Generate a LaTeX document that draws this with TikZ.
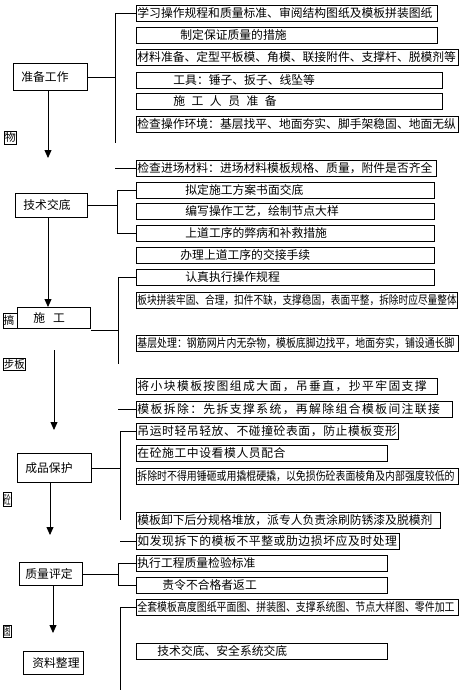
\documentclass[tikz,border=0pt]{standalone}
\usepackage{fontspec}
\usepackage{graphicx}
\setmainfont{Noto Sans CJK SC}
\newfontfamily\cjkwide[LetterSpace=12]{Noto Sans CJK SC}
\newfontfamily\cjkmid[LetterSpace=5]{Noto Sans CJK SC}
\usetikzlibrary{arrows.meta}
\begin{document}
\begin{tikzpicture}[x=1pt,y=-1pt,
  rbox/.style={draw, line width=0.8pt, inner xsep=1pt, inner ysep=0pt, anchor=north west,
    minimum height=16pt, align=left, font=\fontsize{11.8pt}{13pt}\selectfont},
  lbox/.style={draw, line width=0.8pt, inner sep=0pt, anchor=north west, fill=white,
    align=left, font=\fontsize{11.8pt}{13pt}\selectfont},
  sbox/.style={draw, line width=0.6pt, inner sep=0pt, anchor=north west,
    font=\fontsize{11pt}{12pt}\selectfont},
  conn/.style={line width=0.8pt},
  arr/.style={conn, -{Triangle[width=7pt,length=8pt]}}]
\useasboundingbox (0,0) rectangle (471,691);

% small side labels
\node[sbox, minimum width=12pt, minimum height=13pt] (S1) at (4,131) {物};
\node[sbox, minimum width=20pt, minimum height=15pt, text width=20pt, align=left] (S2) at (3,313) {搞};
\node[sbox, minimum width=22pt, minimum height=12pt] (S3) at (3,358) {\scalebox{0.95}[1]{步板}};
\node[sbox, minimum width=8pt, minimum height=14pt] (S4) at (3,492) {\scalebox{0.62}[1.1]{砼}};
\node[sbox, minimum width=8pt, minimum height=12pt] (S5) at (3,625) {\scalebox{0.62}[1]{图}};

% left column
\node[lbox, text width=74pt, minimum height=27pt] (L1) at (13,63) {\hspace*{8pt}准备工作};
\node[lbox, text width=72pt, minimum height=24pt] (L2) at (15,193) {\hspace*{8pt}技术交底};
\node[lbox, text width=73pt, minimum height=21pt] (L3) at (17,307) {\hspace*{16pt}施\hspace{8pt}工};
\node[lbox, text width=74pt, minimum height=29pt] (L4) at (17,453) {\hspace*{8pt}成品保护};
\node[lbox, text width=63pt, minimum height=23pt] (L5) at (19,562) {\hspace*{6pt}质量评定};
\node[lbox, text width=60pt, minimum height=23pt] (L6) at (23,651) {\hspace*{9pt}资料整理};

% right column
\node[rbox, text width=299pt] (R1) at (136,5) {学习操作规程和质量标准、审阅结构图纸及模板拼装图纸};
\node[rbox, text width=299pt] (R2) at (136,27) {\hspace*{43pt}制定保证质量的措施};
\node[rbox, text width=320pt] (R3) at (136,49) {材料准备、定型平板模、角模、联接附件、支撑杆、脱模剂等};
\node[rbox, text width=304pt] (R4) at (136,72) {\hspace*{36pt}工具：锤子、扳子、线坠等};
\node[rbox, text width=304pt] (R5) at (136,93) {\hspace*{36pt}施\hspace{6.5pt}工\hspace{6.5pt}人\hspace{6.5pt}员\hspace{6.5pt}准\hspace{6.5pt}备};
\node[rbox, text width=320pt] (R6) at (136,116) {检查操作环境：基层找平、地面夯实、脚手架稳固、地面无纵};
\node[rbox, text width=298pt] (R7) at (136,160) {检查进场材料：进场材料模板规格、质量，附件是否齐全};
\node[rbox, text width=296pt] (R8) at (136,182) {\hspace*{48pt}拟定施工方案书面交底};
\node[rbox, text width=296pt] (R9) at (136,203) {\hspace*{48pt}编写操作工艺，绘制节点大样};
\node[rbox, text width=296pt] (R10) at (136,225) {\hspace*{48pt}上道工序的弊病和补救措施};
\node[rbox, text width=296pt] (R11) at (136,247) {\hspace*{43pt}办理上道工序的交接手续};
\node[rbox, text width=296pt] (R12) at (136,269) {\hspace*{48pt}认真执行操作规程};
\node[rbox, text width=319pt] (R13) at (136,292) {\scalebox{0.82}[1]{板块拼装牢固、合理，扣件不缺，支撑稳固，表面平整，拆除时应尽量整体}};
\node[rbox, text width=320pt] (R14) at (136,335) {\scalebox{0.84}[1]{基层处理：钢筋网片内无杂物，模板底脚边找平，地面夯实，铺设通长脚}};
\node[rbox, text width=299pt] (R15) at (136,378) {\cjkwide 将小块模板按图组成大面，吊垂直，抄平牢固支撑};
\node[rbox, text width=314pt] (R16) at (136,401) {\cjkwide 模板拆除：先拆支撑系统，再解除组合模板间注联接};
\node[rbox, text width=260pt] (R17) at (136,423) {\cjkmid 吊运时轻吊轻放、不碰撞砼表面，防止模板变形};
\node[rbox, text width=249pt] (R18) at (136,445) {\cjkmid 在砼施工中设看模人员配合};
\node[rbox, text width=320pt] (R19) at (136,468) {\scalebox{0.84}[1]{拆除时不得用锤砸或用撬棍硬撬，以免损伤砼表面棱角及内部强度较低的}};
\node[rbox, text width=302pt] (R20) at (136,512) {模板卸下后分规格堆放，派专人负责涂刷防锈漆及脱模剂};
\node[rbox, text width=261pt] (R21) at (136,533) {\cjkmid 如发现拆下的模板不平整或肋边损坏应及时处理};
\node[rbox, text width=249pt] (R22) at (136,555) {执行工程质量检验标准};
\node[rbox, text width=249pt] (R23) at (136,577) {\hspace*{25pt}责令不合格者返工};
\node[rbox, text width=320pt] (R24) at (136,599) {\scalebox{0.84}[1]{全套模板高度图纸平面图、拼装图、支撑系统图、节点大样图、零件加工}};
\node[rbox, text width=249pt] (R25) at (136,643) {\hspace*{20pt}技术交底、安全系统交底};

% helper coordinates
\coordinate (b1) at (115,143);
\coordinate (b2) at (117,0);
\coordinate (b3) at (118,364);
\coordinate (b4) at (120,520);
\coordinate (b5) at (118,0);
\coordinate (b6) at (120,690);
\coordinate (a1) at (48,158);
\coordinate (a2) at (48,0);
\coordinate (a3s) at (54,350);
\coordinate (a3e) at (54,430);
\coordinate (a4) at (50,535);
\coordinate (a5) at (53,633);

% brackets
\draw[conn] (R1.west) -| (b1);
\draw[conn] (L1.east) -- (L1.east -| b1);
\draw[conn] (R7.west -| b1) -- (R7.west);

\draw[conn] (R8.west) -- (R8.west -| b2) -- (R10.west -| b2) -- (R10.west);
\draw[conn] (L2.east) -- (L2.east -| b2);

\draw[conn] (R12.west) -| (b3);
\draw[conn] ([yshift=-2pt]L3.south east) -- ([yshift=-2pt]L3.south east -| b3);
\draw[conn] (R16.west -| b3) -- (R16.west);

\draw[conn] (R17.west) -| (b4);
\draw[conn] (L4.east) -- (L4.east -| b4);
\draw[conn] (R21.west -| b4) -- (R21.west);

\draw[conn] (R22.west) -- (R22.west -| b5) -- (R23.west -| b5) -- (R23.west);
\draw[conn] (L5.east) -- (L5.east -| b5);

\draw[conn] (R24.west) -| (b6);

% arrows
\draw[arr] (L1.south -| a1) -- (a1);
\draw[arr] (L2.south -| a2) -- (L3.north -| a2);
\draw[arr] (a3s) -- (a3e);
\draw[arr] (L4.south -| a4) -- (a4);
\draw[arr] (L5.south -| a5) -- (a5);
\end{tikzpicture}
\end{document}
